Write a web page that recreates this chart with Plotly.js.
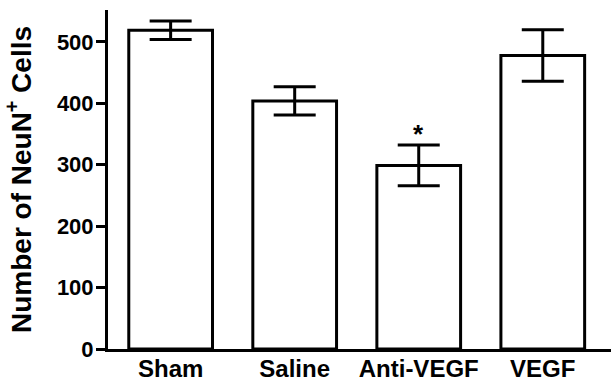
<!DOCTYPE html>
<html>
<head>
<meta charset="utf-8">
<script src="https://cdn.plot.ly/plotly-3.0.1.min.js"></script>
<style>html,body{margin:0;padding:0;background:#fff;}#chart{width:614px;height:384px;}</style>
</head>
<body>
<div id="chart"></div>
<script>
const categories = ["Sham", "Saline", "Anti-VEGF", "VEGF"];
const means = [519, 404, 299, 478];
const sem = [15, 23, 33, 42];
const yTicks = [0, 100, 200, 300, 400, 500];
const sigLabel = "*";
const sigCategory = "Anti-VEGF";
const sigY = 323;

const FONT = {family: "Liberation Sans, Arial, sans-serif", color: "#000", weight: 700};

const trace = {
  type: "bar",
  x: [0, 1, 2, 3],
  y: means,
  width: 0.675,
  marker: {color: "#fff", line: {color: "#000", width: 3}},
  error_y: {type: "data", array: sem, visible: true, color: "#000", thickness: 3, width: 21},
  hoverinfo: "none"
};

const layout = {
  width: 614, height: 384,
  margin: {l: 108, r: 3, t: 10, b: 35},
  paper_bgcolor: "#fff", plot_bgcolor: "#fff",
  showlegend: false,
  font: Object.assign({}, FONT, {size: 22}),
  xaxis: {
    range: [-0.505, 3.55],
    tickmode: "array", tickvals: [0, 1, 2, 3], ticktext: categories,
    ticks: "", showgrid: false, zeroline: false,
    showline: true, linecolor: "#000", linewidth: 3,
    tickfont: Object.assign({}, FONT, {size: 24}),
    ticklabelstandoff: -4,
    fixedrange: true
  },
  yaxis: {
    range: [0, 552],
    tickmode: "array", tickvals: yTicks,
    ticks: "outside", ticklen: 9, tickwidth: 3, tickcolor: "#000",
    showgrid: false, zeroline: false,
    showline: true, linecolor: "#000", linewidth: 3,
    tickfont: Object.assign({}, FONT, {size: 22}),
    ticklabelstandoff: -2,
    title: {text: "Number of NeuN<sup>+</sup> Cells", font: Object.assign({}, FONT, {size: 28}), standoff: 18},
    fixedrange: true
  },
  annotations: [{
    x: categories.indexOf(sigCategory), y: sigY, xref: "x", yref: "y",
    text: sigLabel, showarrow: false, yanchor: "bottom",
    font: Object.assign({}, FONT, {size: 26})
  }]
};

Plotly.newPlot("chart", [trace], layout, {displayModeBar: false, staticPlot: true});
</script>
</body>
</html>
